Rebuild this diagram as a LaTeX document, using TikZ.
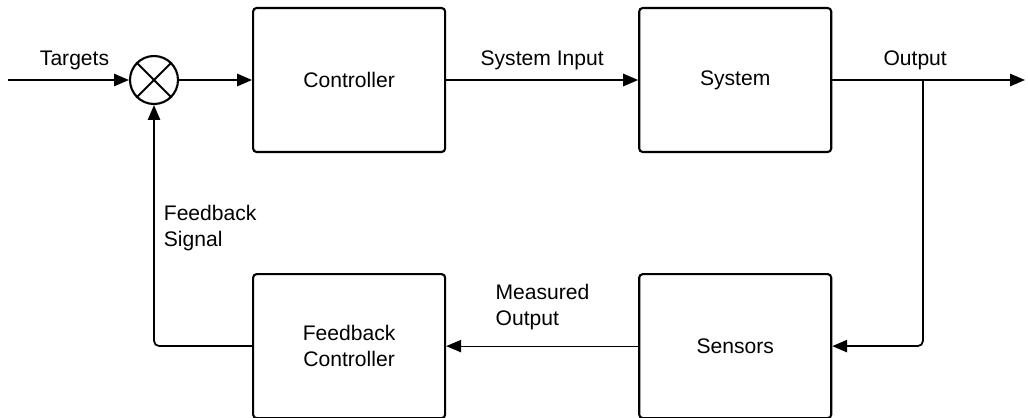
\documentclass[tikz,border=0pt]{standalone}
\usepackage{fontspec}
\setmainfont{Liberation Sans}
\usetikzlibrary{arrows.meta,positioning}

\begin{document}
\begin{tikzpicture}[->,>={Triangle[length=8.5pt,width=7pt]},line width=1pt,
                    node distance=3.84cm,font=\fontsize{12}{14.5}\selectfont,
                    block/.style={draw,line width=1.2pt,rounded corners=2pt,
                      minimum width=3.84cm,minimum height=2.88cm,inner sep=0pt,align=center},
                    sumnode/.style={draw,circle,line width=1.2pt,minimum size=0.96cm,inner sep=0pt},
                    lbl/.style={inner sep=0pt,align=left}]
\useasboundingbox (0,0) rectangle (20.56,-8.34);

\node[sumnode] (sum) at (3.08,-1.6) {};
\node[block] (ctrl) [right=1.46cm of sum] {Controller};
\node[block] (sys) [right=of ctrl] {System};
\node[block] (sens) [below=2.4cm of sys] {Sensors};
\node[block] (fbctrl) [below=2.4cm of ctrl] {Feedback\\Controller};

\coordinate (in) at (0.16,-1.6);
\coordinate (out) at (20.5,-1.6);
\coordinate (tap) at (18.46,-1.6);

% summing junction cross
\draw[-,line width=1.2pt] (sum.north east) -- (sum.south west)
                           (sum.north west) -- (sum.south east);

\draw (in) -- node[lbl,above=5pt,pos=0.55] {Targets} (sum);
\draw (sum) -- (ctrl);
\draw (ctrl) -- node[lbl,above=5pt] {System Input} (sys);
\draw (sys) -- node[lbl,above=5pt,pos=0.43] {Output} (out);
\draw[rounded corners=3pt] (tap) |- (sens);
\draw[line width=0.6pt] (sens) -- node[lbl,anchor=south west,pos=0.745,yshift=0.32cm] {Measured\\Output} (fbctrl);
\draw[rounded corners=3pt] (fbctrl.west) -| node[lbl,right=0.18cm,pos=0.745] {Feedback\\Signal} (sum.south);
\end{tikzpicture}
\end{document}
